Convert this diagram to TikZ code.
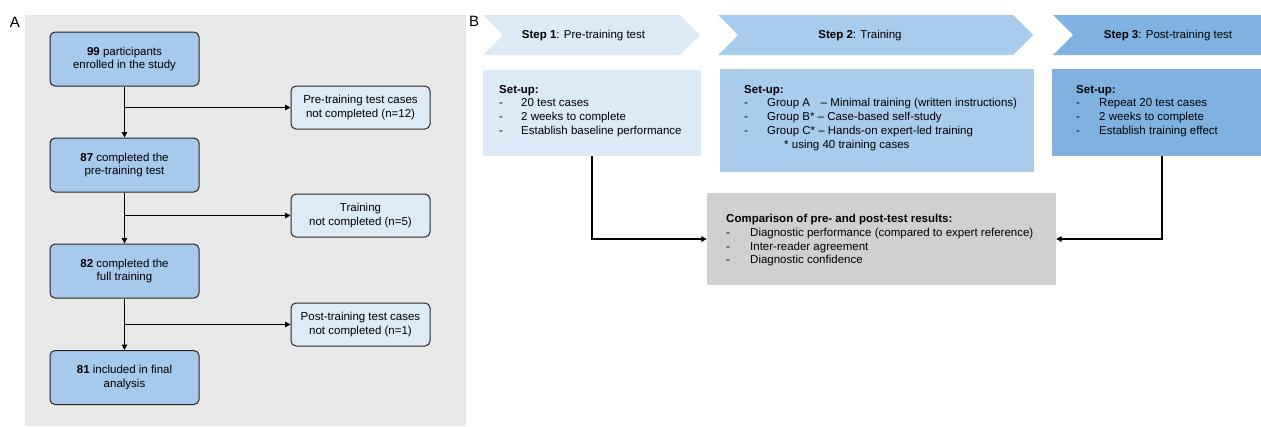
\documentclass[tikz,border=0pt]{standalone}
\usepackage{fontspec}
\setmainfont{Liberation Sans}
\usetikzlibrary{arrows.meta}
\definecolor{mainblue}{HTML}{A7C9EC}
\definecolor{sideblue}{HTML}{DDEBF7}
\definecolor{stepone}{HTML}{DCE9F6}
\definecolor{steptwo}{HTML}{A9CBEC}
\definecolor{stepthree}{HTML}{80B2E1}
\definecolor{cmpgray}{HTML}{D0D0D0}
\definecolor{panelgray}{HTML}{E8E8E8}
\begin{document}
\begin{tikzpicture}[x=1pt,y=-1pt,
  txt/.style={font=\fontsize{11.5}{13.8}\selectfont, inner sep=0pt},
  mainbox/.style={draw=black!85, fill=mainblue, rounded corners=5pt, minimum width=149pt, minimum height=54pt, align=center, txt, line width=1pt},
  sidebox/.style={draw=black!85, fill=sideblue, rounded corners=5pt, minimum width=139pt, minimum height=43pt, align=center, txt, line width=1pt},
  panel/.style={inner sep=0pt, draw=none},
  blk/.style={txt, align=left, anchor=north west},
  conn/.style={line width=1.2pt, -{Triangle[length=5.5pt,width=5.5pt]}},
  lbl/.style={font=\fontsize{15}{17}\selectfont, inner sep=0pt}
]
\useasboundingbox (0,0) rectangle (1261,426);
% Panel A
\fill[panelgray] (25,15) rectangle (466,426);
\node[lbl] (la) at (15,22.5) {A};
\node[mainbox] (a1) at (124.5,59) {\textbf{99} participants\\enrolled in the study};
\node[mainbox] (a2) at (124.5,165) {\textbf{87} completed the\\pre-training test};
\node[mainbox] (a3) at (124.5,271) {\textbf{82} completed the\\full training};
\node[mainbox] (a4) at (124.5,377.5) {\textbf{81} included in final\\analysis};
\node[sidebox] (s1) at (360.5,107.5) {Pre-training test cases\\not completed (n=12)};
\node[sidebox] (s2) at (360.5,215.5) {Training\\not completed (n=5)};
\node[sidebox] (s3) at (360.5,324.5) {Post-training test cases\\not completed (n=1)};
\coordinate (j1) at (124.5,107.5);
\coordinate (j2) at (124.5,215.5);
\coordinate (j3) at (124.5,324.5);
\draw[conn] (a1) -- (a2);
\draw[conn] (a2) -- (a3);
\draw[conn] (a3) -- (a4);
\draw[conn] (j1) -- (s1.west);
\draw[conn] (j2) -- (s2.west);
\draw[conn] (j3) -- (s3.west);
% Panel B
\node[lbl] (lb) at (474,21.5) {B};
\fill[stepone] (483,15) -- (680,15) -- (700,35) -- (680,55) -- (483,55) -- (503,35) -- cycle;
\fill[steptwo] (718,15) -- (1013,15) -- (1033,35) -- (1013,55) -- (718,55) -- (738,35) -- cycle;
\fill[stepthree] (1053,15) -- (1261,15) -- (1261,55) -- (1053,55) -- (1073,35) -- cycle;
\node[txt] (t1) at (583.5,36) {\textbf{Step 1}: Pre-training test};
\node[txt] (t2) at (860,36) {\textbf{Step 2}: Training};
\node[txt] (t3) at (1168,36) {\textbf{Step 3}: Post-training test};
\node[panel, fill=stepone, minimum width=218pt, minimum height=86pt] (b1) at (592,113) {};
\node[panel, fill=steptwo, minimum width=314pt, minimum height=103pt] (b2) at (877,120.5) {};
\node[panel, fill=stepthree, minimum width=209pt, minimum height=87pt] (b3) at (1156.5,112.5) {};
\node[panel, fill=cmpgray, minimum width=349pt, minimum height=92pt] (cmp) at (881.5,239) {};
\node[blk] (bt1) at (499,84.8) {\textbf{Set-up:}\\
\makebox[22pt][l]{-}20 test cases\\
\makebox[22pt][l]{-}2 weeks to complete\\
\makebox[22pt][l]{-}Establish baseline performance};
\node[blk] (bt2) at (744,84.8) {\textbf{Set-up:}\\
\makebox[23pt][l]{-}Group A\phantom{*}\ \ – Minimal training (written instructions)\\
\makebox[23pt][l]{-}Group B* – Case-based self-study\\
\makebox[23pt][l]{-}Group C* – Hands-on expert-led training\\
\hspace*{40pt}* using 40 training cases};
\node[blk] (bt3) at (1076,84.8) {\textbf{Set-up:}\\
\makebox[23pt][l]{-}Repeat 20 test cases\\
\makebox[23pt][l]{-}2 weeks to complete\\
\makebox[23pt][l]{-}Establish training effect};
\node[blk] (ct) at (726,214) {\textbf{Comparison of pre- and post-test results:}\\
\makebox[24pt][l]{-}Diagnostic performance (compared to expert reference)\\
\makebox[24pt][l]{-}Inter-reader agreement\\
\makebox[24pt][l]{-}Diagnostic confidence};
\draw[conn] (b1.south) |- (cmp.west);
\draw[conn] ([xshift=5.5pt]b3.south) |- (cmp.east);
\end{tikzpicture}
\end{document}
